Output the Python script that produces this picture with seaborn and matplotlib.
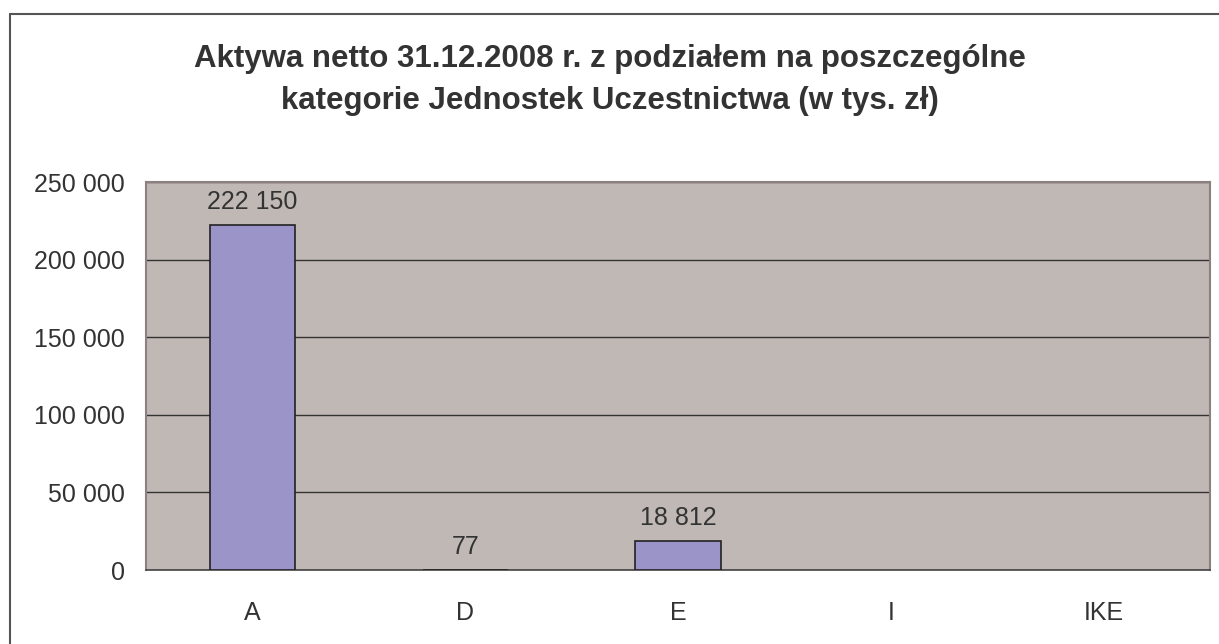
import numpy as np
import pandas as pd
import seaborn as sns
import matplotlib.pyplot as plt
from matplotlib.lines import Line2D
from matplotlib.ticker import FuncFormatter, FixedLocator

# Data
categories = ["A", "D", "E", "I", "IKE"]
values = [222150, 77, 18812, np.nan, np.nan]
y_ticks = [0, 50000, 100000, 150000, 200000, 250000]

title = ("Aktywa netto 31.12.2008 r. z podziałem na poszczególne\n"
         "kategorie Jednostek Uczestnictwa (w tys. zł)")

sns.set_style("white")
plt.rcParams['font.family'] = ['Liberation Sans', 'DejaVu Sans']

text_color = "#333333"
bg_color = "#C0B8B4"
bar_color = "#9B94C8"

df = pd.DataFrame({"kategoria": categories, "wartosc": values})

fig = plt.figure(figsize=(12.19, 6.44), dpi=100)
ax = fig.add_axes([146 / 1219, 1 - 570 / 644, (1210 - 146) / 1219, (570 - 182) / 644])
ax.set_facecolor(bg_color)

sns.barplot(data=df, x="kategoria", y="wartosc", color=bar_color, width=0.4,
            edgecolor="#222222", linewidth=1.2, saturation=1, ax=ax, zorder=3)

ax.set_xlim(-0.5, len(categories) - 0.5)
ax.set_ylim(0, 250000)
ax.yaxis.set_major_locator(FixedLocator(y_ticks))
ax.yaxis.set_major_formatter(FuncFormatter(lambda v, p: f"{int(v):,}".replace(",", " ")))
ax.grid(axis="y", color="#333333", linewidth=1, zorder=0)
ax.set_axisbelow(True)

# category ticks sit between bars, labels sit under bars
ax.set_xticks(np.arange(-0.5, len(categories)), minor=False)
ax.set_xticklabels([""] * (len(categories) + 1))
ax.set_xticks(np.arange(len(categories)), minor=True)
ax.set_xticklabels(categories, minor=True)
ax.tick_params(axis="x", which="major", direction="out", length=8, color="#777777", width=1.5)
ax.tick_params(axis="x", which="minor", length=0, pad=22, labelsize=18, labelcolor=text_color)
ax.tick_params(axis="y", direction="out", length=8, color="#555555", width=1,
               labelsize=18, labelcolor=text_color, pad=7)

ax.set_xlabel("")
ax.set_ylabel("")

for s in ["top", "right", "left"]:
    ax.spines[s].set_color("#8C8080")
    ax.spines[s].set_linewidth(1.5)
ax.spines["bottom"].set_color("#444444")
ax.spines["bottom"].set_linewidth(1.2)

# value labels above bars
for i, v in enumerate(values):
    if np.isnan(v):
        continue
    ax.annotate(f"{int(v):,}".replace(",", " "), (i, v), xytext=(0, 8),
                textcoords="offset points", ha="center", va="bottom",
                fontsize=18, color=text_color)

fig.text(610 / 1219, 1 - 80 / 644, title, ha="center", va="center", fontsize=22.5,
         fontweight="bold", color=text_color, linespacing=1.55)

# outer frame of the chart object
fig.add_artist(Line2D([10 / 1219, 10 / 1219], [0, 1 - 14 / 644], color="#555555", linewidth=1.5))
fig.add_artist(Line2D([10 / 1219, 1], [1 - 14 / 644, 1 - 14 / 644], color="#555555", linewidth=1.5))

fig.savefig("out.png", dpi=100, facecolor="white")
